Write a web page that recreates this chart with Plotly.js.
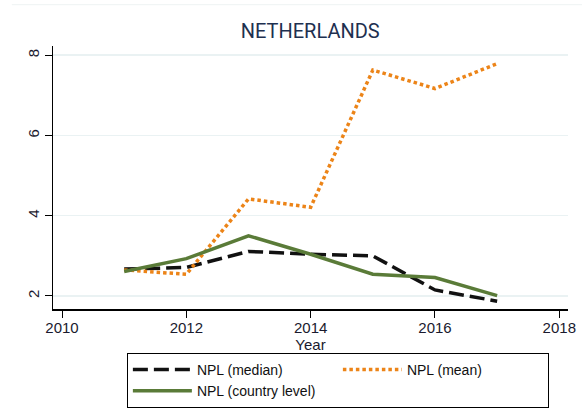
<!DOCTYPE html>
<html><head><meta charset="utf-8">
<script src="https://cdn.plot.ly/plotly-3.0.1.min.js"></script>
<style>html,body{margin:0;padding:0;background:#fff}#chart{width:582px;height:408px}</style>
</head><body><div id="chart"></div>
<script>
const years = [2011, 2012, 2013, 2014, 2015, 2016, 2017];
const nplMedian = [2.67, 2.71, 3.11, 3.04, 3.0, 2.15, 1.87];
const nplMean = [2.65, 2.54, 4.42, 4.21, 7.63, 7.17, 7.79];
const nplCountry = [2.61, 2.93, 3.5, 3.04, 2.54, 2.46, 2.01];
const xTicks = [2010, 2012, 2014, 2016, 2018];
const yTicks = [2, 4, 6, 8];

const traces = [
  {x: years, y: nplMedian, name: 'NPL (median)', mode: 'lines',
   line: {color: '#111111', width: 3.5, dash: '15px,6px'}},
  {x: years, y: nplMean, name: 'NPL (mean)', mode: 'lines',
   line: {color: '#ec8418', width: 3.5, dash: '3.5px,3px'}},
  {x: years, y: nplCountry, name: 'NPL (country level)', mode: 'lines',
   line: {color: '#5a7b38', width: 3.5}}
];

const layout = {
  width: 582, height: 408,
  margin: {l: 53, r: 14, t: 46, b: 99},
  paper_bgcolor: '#ffffff', plot_bgcolor: '#ffffff',
  font: {family: 'Liberation Sans, Arial, sans-serif', size: 15, color: '#111'},
  title: {text: 'NETHERLANDS', x: 0.533, xanchor: 'center', y: 0.924, yanchor: 'middle',
          font: {family: 'Roboto, Liberation Sans, sans-serif', size: 20, color: '#1e3050'}},
  xaxis: {
    range: [2009.855, 2018.14], tickvals: xTicks, ticktext: xTicks.map(String),
    showgrid: false, zeroline: false, showline: true, linecolor: '#000', linewidth: 1.5,
    ticks: 'outside', ticklen: 7, tickcolor: '#000', ticklabelstandoff: -3,
    tickfont: {size: 15, color: '#1a1a2e'},
    title: {text: 'Year', standoff: 0, font: {size: 15, color: '#1a1a2e'}}
  },
  yaxis: {
    range: [1.675, 8.23], tickvals: yTicks, ticktext: yTicks.map(String),
    tickangle: -90,
    showgrid: true, gridcolor: '#eaf2f3', gridwidth: 1.5, zeroline: false,
    showline: true, linecolor: '#000', linewidth: 1.5,
    ticks: 'outside', ticklen: 7, tickcolor: '#000', tickfont: {size: 15, color: '#1a1a2e'}
  },
  showlegend: true,
  legend: {
    orientation: 'h', xref: 'container', yref: 'container',
    x: 0.218, xanchor: 'left', y: 0.1348, yanchor: 'top',
    bordercolor: '#000', borderwidth: 1, bgcolor: '#fff',
    font: {size: 14}, entrywidth: 136, entrywidthmode: 'pixels', itemwidth: 59,
    traceorder: 'normal'
  },
  shapes: [
    {type: 'line', xref: 'paper', yref: 'paper', x0: -0.08, x1: 1.03, y0: 1.157, y1: 1.157,
     line: {color: '#eef3f3', width: 1}}
  ]
};
Plotly.newPlot('chart', traces, layout, {displayModeBar: false, staticPlot: true});
</script></body></html>
